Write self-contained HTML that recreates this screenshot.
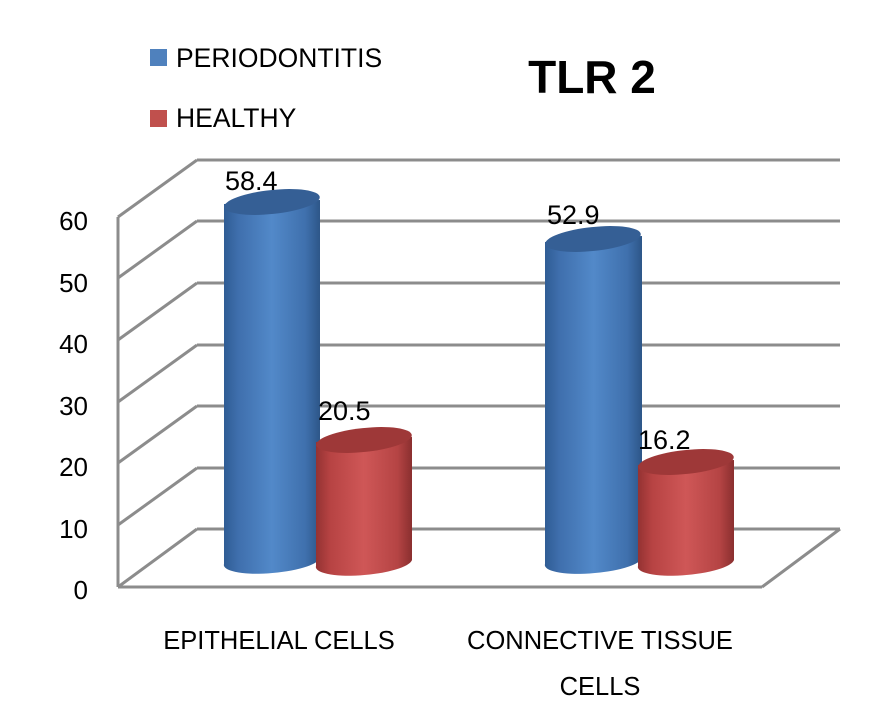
<!DOCTYPE html>
<html><head><meta charset="utf-8"><style>
body{margin:0;background:#fff;}
svg{display:block;font-family:"Liberation Sans",sans-serif;}
</style></head><body>
<svg width="883" height="715" viewBox="0 0 883 715">
<defs>
<linearGradient id="bg" x1="0" x2="1" y1="0" y2="0">
<stop offset="0" stop-color="#2f5c94"/><stop offset="0.15" stop-color="#3f6fad"/><stop offset="0.5" stop-color="#5289c9"/><stop offset="0.85" stop-color="#3f70ad"/><stop offset="1" stop-color="#2d5688"/>
</linearGradient>
<linearGradient id="rg" x1="0" x2="1" y1="0" y2="0">
<stop offset="0" stop-color="#933232"/><stop offset="0.15" stop-color="#b74343"/><stop offset="0.5" stop-color="#cf5757"/><stop offset="0.85" stop-color="#b54444"/><stop offset="1" stop-color="#8a2f2f"/>
</linearGradient>
</defs>
<g stroke="#8c8c8c" stroke-width="3" fill="none">
<line x1="197" y1="160" x2="840" y2="160"/>
<line x1="197" y1="221" x2="840" y2="221"/>
<line x1="197" y1="283" x2="840" y2="283"/>
<line x1="197" y1="345" x2="840" y2="345"/>
<line x1="197" y1="406" x2="840" y2="406"/>
<line x1="197" y1="468" x2="840" y2="468"/>
<line x1="197" y1="529" x2="840" y2="529"/>
<line x1="197" y1="160" x2="118" y2="217"/>
<line x1="197" y1="221" x2="118" y2="278"/>
<line x1="197" y1="283" x2="118" y2="340"/>
<line x1="197" y1="345" x2="118" y2="402"/>
<line x1="197" y1="406" x2="118" y2="463"/>
<line x1="197" y1="468" x2="118" y2="525"/>
<line x1="197" y1="529" x2="118" y2="587"/>
<line x1="118" y1="217" x2="118" y2="587"/>
<line x1="118" y1="587" x2="762" y2="587"/>
<line x1="840" y1="529" x2="762" y2="587"/>
</g>
<g>
<path d="M224 204 L224 564 A48 12 -5 0 0 320 558 L320 200 Z" fill="url(#bg)"/>
<ellipse cx="272" cy="202" rx="48" ry="12" transform="rotate(-6 272 202)" fill="#355f95"/>
<path d="M316 442 L316 566 A48 12 -5 0 0 412 560 L412 437 Z" fill="url(#rg)"/>
<ellipse cx="364" cy="440" rx="48" ry="12" transform="rotate(-6 364 440)" fill="#9e3838"/>
<path d="M545 242 L545 564 A48 12 -5 0 0 642 558 L642 236 Z" fill="url(#bg)"/>
<ellipse cx="593" cy="239" rx="48" ry="12" transform="rotate(-6 593 239)" fill="#355f95"/>
<path d="M638 465 L638 566 A48 12 -5 0 0 734 560 L734 460 Z" fill="url(#rg)"/>
<ellipse cx="686" cy="462" rx="48" ry="12" transform="rotate(-6 686 462)" fill="#9e3838"/>
</g>
<g font-size="27" fill="#000">
<text x="225" y="190">58.4</text>
<text x="318" y="420">20.5</text>
<text x="547" y="224">52.9</text>
<text x="638" y="449">16.2</text>
</g>
<g font-size="26" fill="#000" text-anchor="end">
<text x="88" y="230">60</text>
<text x="88" y="292">50</text>
<text x="88" y="353">40</text>
<text x="88" y="415">30</text>
<text x="88" y="476">20</text>
<text x="88" y="538">10</text>
<text x="88" y="599">0</text>
</g>
<g font-size="25.5" fill="#000" text-anchor="middle">
<text x="279" y="649">EPITHELIAL CELLS</text>
<text x="600" y="649">CONNECTIVE TISSUE</text>
<text x="600" y="695">CELLS</text>
</g>
<rect x="150" y="49" width="17" height="17" fill="#4f81bd"/>
<text x="176" y="67" font-size="26.5">PERIODONTITIS</text>
<rect x="150" y="110" width="17" height="17" fill="#c0504d"/>
<text x="176" y="127" font-size="26.5">HEALTHY</text>
<text x="592" y="93" font-size="46" font-weight="bold" text-anchor="middle">TLR 2</text>
</svg>
</body></html>
